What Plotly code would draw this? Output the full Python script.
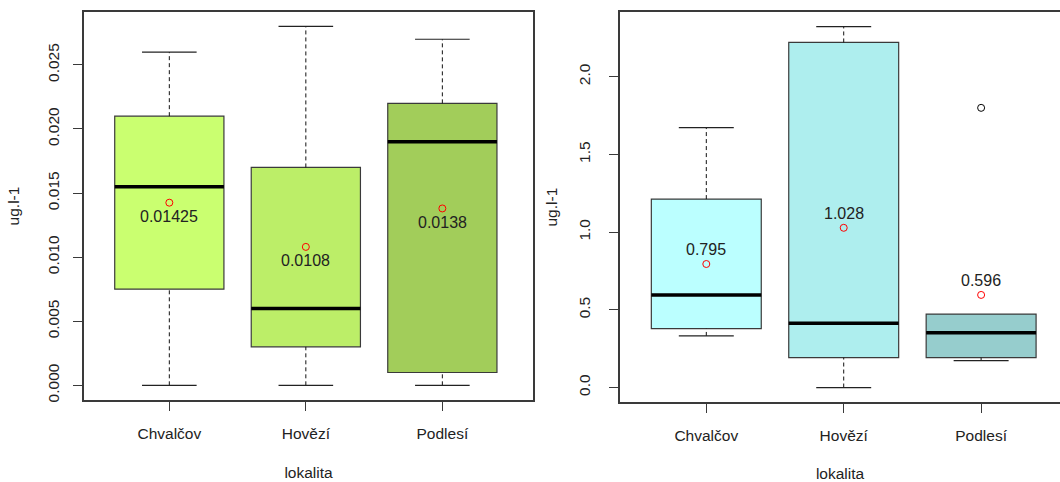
import plotly.graph_objects as go

categories = ["Chvalčov", "Hovězí", "Podlesí"]

# Left panel
left_low = [0.0, 0.0, 0.0]
left_q1 = [0.0075, 0.003, 0.001]
left_median = [0.0155, 0.006, 0.019]
left_q3 = [0.021, 0.017, 0.022]
left_high = [0.026, 0.028, 0.027]
left_mean = [0.01425, 0.0108, 0.0138]
left_mean_labels = ["0.01425", "0.0108", "0.0138"]
left_colors = ["#CAFF70", "#BCEE68", "#A2CD5A"]

# Right panel
right_low = [0.332, 0.0, 0.173]
right_q1 = [0.379, 0.192, 0.192]
right_median = [0.595, 0.414, 0.352]
right_q3 = [1.213, 2.221, 0.473]
right_high = [1.673, 2.323, 0.473]
right_mean = [0.795, 1.028, 0.596]
right_mean_labels = ["0.795", "1.028", "0.596"]
right_colors = ["#BBFFFF", "#AEEEEE", "#96CDCD"]
right_outlier_cat = [3]
right_outlier_val = [1.8]

y_title = "ug.l-1"
x_title = "lokalita"

FONT = "Liberation Sans, Arial, sans-serif"
TXT = "#222222"
FRAME = "#3a3a3a"
BOXW = 0.8
CAPW = 0.4

fig = go.Figure()


def add_panel(xa, ya, low, q1, med, q3, high, mean, labels, colors, label_shift):
    xs = [1, 2, 3]
    for i, c in enumerate(categories):
        fig.add_trace(go.Box(
            x=[xs[i]], q1=[q1[i]], median=[med[i]], q3=[q3[i]],
            lowerfence=[q1[i]], upperfence=[q3[i]],
            width=BOXW, whiskerwidth=0, fillcolor=colors[i],
            line=dict(color=FRAME, width=1.2), boxpoints=False,
            showlegend=False, hoverinfo="skip", xaxis=xa, yaxis=ya,
        ))
    for i in range(3):
        x = xs[i]
        if high[i] > q3[i]:
            fig.add_trace(go.Scatter(x=[x, x], y=[q3[i], high[i]], mode="lines",
                                     line=dict(color="#111111", width=1, dash="4px,3px"),
                                     showlegend=False, hoverinfo="skip", xaxis=xa, yaxis=ya))
            fig.add_trace(go.Scatter(x=[x - CAPW / 2, x + CAPW / 2], y=[high[i], high[i]], mode="lines",
                                     line=dict(color="#222222", width=1.2),
                                     showlegend=False, hoverinfo="skip", xaxis=xa, yaxis=ya))
        if low[i] < q1[i]:
            fig.add_trace(go.Scatter(x=[x, x], y=[low[i], q1[i]], mode="lines",
                                     line=dict(color="#111111", width=1, dash="4px,3px"),
                                     showlegend=False, hoverinfo="skip", xaxis=xa, yaxis=ya))
            fig.add_trace(go.Scatter(x=[x - CAPW / 2, x + CAPW / 2], y=[low[i], low[i]], mode="lines",
                                     line=dict(color="#222222", width=1.2),
                                     showlegend=False, hoverinfo="skip", xaxis=xa, yaxis=ya))
        fig.add_trace(go.Scatter(x=[x - BOXW / 2, x + BOXW / 2], y=[med[i], med[i]], mode="lines",
                                 line=dict(color="black", width=3.5),
                                 showlegend=False, hoverinfo="skip", xaxis=xa, yaxis=ya))
    fig.add_trace(go.Scatter(x=xs, y=mean, mode="markers",
                             marker=dict(symbol="circle-open", color="red", size=7, line=dict(width=1)),
                             showlegend=False, hoverinfo="skip", xaxis=xa, yaxis=ya))
    for i in range(3):
        fig.add_annotation(x=xs[i], y=mean[i], xref=xa, yref=ya, text=labels[i],
                           showarrow=False, yshift=label_shift,
                           font=dict(family=FONT, size=16, color=TXT))


add_panel("x", "y", left_low, left_q1, left_median, left_q3, left_high,
          left_mean, left_mean_labels, left_colors, -14)
add_panel("x2", "y2", right_low, right_q1, right_median, right_q3, right_high,
          right_mean, right_mean_labels, right_colors, 14.5)

fig.add_trace(go.Scatter(x=right_outlier_cat, y=right_outlier_val, mode="markers",
                         marker=dict(symbol="circle-open", color="black", size=7, line=dict(width=1)),
                         showlegend=False, hoverinfo="skip", xaxis="x2", yaxis="y2"))

W, H = 1060, 482

common_x = dict(tickvals=[1, 2, 3], ticktext=categories, ticks="outside", ticklen=9,
                tickcolor=FRAME, showline=True, linecolor=FRAME, linewidth=1.5,
                showgrid=False, zeroline=False, ticklabelstandoff=10,
                tickfont=dict(family=FONT, size=15.5, color=TXT),
                title=dict(text=x_title, font=dict(family=FONT, size=15.5, color=TXT), standoff=26))
common_y = dict(ticks="outside", ticklen=9, tickcolor=FRAME, showline=True, linecolor=FRAME,
                linewidth=1.5, showgrid=False, zeroline=False, tickangle=-90,
                tickfont=dict(family=FONT, size=15.5, color=TXT))

fig.update_layout(
    width=W, height=H, margin=dict(l=0, r=0, t=0, b=0),
    paper_bgcolor="white", plot_bgcolor="white", boxmode="overlay",
    xaxis=dict(common_x, domain=[84 / W, 533 / W], range=[0.375, 3.664], mirror=True, anchor="y"),
    yaxis=dict(common_y, domain=[(H - 402.3) / H, (H - 12.3) / H], range=[-0.00113, 0.02911],
               tick0=0, dtick=0.005, tickformat=".3f", mirror=True, anchor="x",
               ticklabelstandoff=8,
               title=dict(text=y_title, font=dict(family=FONT, size=15.5, color=TXT), standoff=22)),
    xaxis2=dict(common_x, domain=[620 / W, 1.0], range=[0.372, 3.574], mirror=True, anchor="y2"),
    yaxis2=dict(common_y, domain=[(H - 404.5) / H, (H - 12.3) / H], range=[-0.093, 2.4155],
                tick0=0, dtick=0.5, tickformat=".1f", mirror=False, anchor="x2",
                ticklabelstandoff=13,
                title=dict(text=y_title, font=dict(family=FONT, size=15.5, color=TXT), standoff=15)),
)

fig.write_html("out.html", config={"displayModeBar": False},
               post_script="document.body.style.margin='0';document.body.style.overflow='hidden';")
